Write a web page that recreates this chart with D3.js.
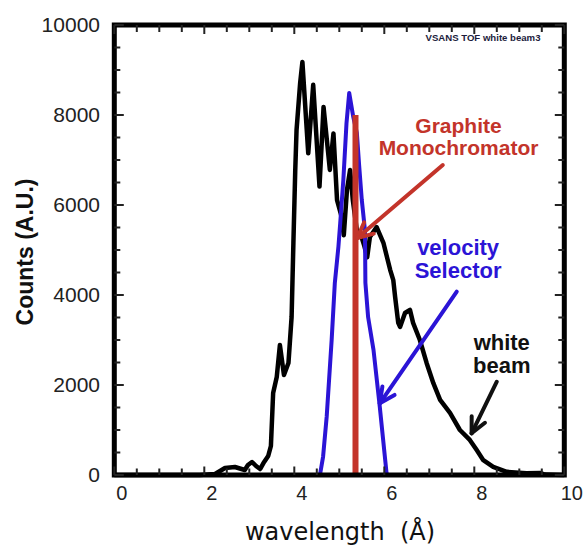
<!DOCTYPE html>
<html>
<head>
<meta charset="utf-8">
<script src="https://cdn.jsdelivr.net/npm/d3@7/dist/d3.min.js"></script>
<style>
  html, body { margin: 0; padding: 0; background: #fff; }
  svg { display: block; }
</style>
</head>
<body>
<svg id="chart" width="587" height="550"></svg>
<script>
// White beam time-of-flight spectrum (black)
const whiteLambda = [0, 1.90, 2.24, 2.46, 2.68, 2.90, 2.97, 3.06, 3.15, 3.24,
  3.33, 3.42, 3.48, 3.53, 3.61, 3.68, 3.77, 3.87, 3.94, 3.98,
  4.02, 4.05, 4.13, 4.18, 4.31, 4.42, 4.56, 4.65, 4.79, 4.87,
  4.95, 5.04, 5.10, 5.17, 5.24, 5.30, 5.39, 5.48, 5.55, 5.62,
  5.68, 5.83, 5.98, 6.13, 6.20, 6.24, 6.31, 6.35, 6.46, 6.57,
  6.64, 6.79, 6.94, 7.09, 7.24, 7.46, 7.68, 7.90, 8.05, 8.20,
  8.42, 8.72, 9.16, 9.46, 9.57, 10];
const whiteCounts = [0, 0, 22, 156, 178, 111, 222, 289, 200, 133,
  289, 422, 644, 1822, 2178, 2889, 2222, 2489, 3511, 5156,
  6733, 7667, 8711, 9180, 7150, 8670, 6410, 8180, 6780, 7590,
  6110, 5780, 5330, 6330, 6780, 6110, 5440, 5330, 5110, 4840,
  5290, 5510, 5160, 4560, 4330, 3960, 3380, 3290, 3600, 3670,
  3380, 3000, 2490, 2040, 1670, 1380, 1000, 780, 560, 330,
  180, 70, 40, 45, 10, 0];

// Velocity selector transmission (blue)
const selectorLambda = [4.57, 4.64, 4.72, 4.83, 4.90, 4.98, 5.02, 5.09, 5.16, 5.22,
  5.31, 5.39, 5.44, 5.50, 5.57, 5.58, 5.64, 5.76, 5.90, 6.05, 6.08];
const selectorCounts = [0, 410, 1300, 3000, 4260, 5070, 5590, 6560, 7820, 8490,
  7960, 7600, 6890, 6110, 5440, 4270, 3510, 2780, 1510, 40, 0];

// Graphite monochromator line (red)
const graphiteLambda = [5.36, 5.36];
const graphiteCounts = [0, 8000];

// Axis ticks
const xMajorTicks = [0, 2, 4, 6, 8, 10];
const xMinorTicks = [0.5, 1, 1.5, 2.5, 3, 3.5, 4.5, 5, 5.5, 6.5, 7, 7.5, 8.5, 9, 9.5];
const yMajorTicks = [0, 2000, 4000, 6000, 8000, 10000];
const yMinorTicks = [500, 1000, 1500, 2500, 3000, 3500, 4500, 5000, 5500,
  6500, 7000, 7500, 8500, 9000, 9500];

// Annotations (data units)
const labels = [
  { lines: ["Graphite", "Monochromator"], at: [7.65, 7600], step: 22, color: "#c3342a", size: 21 },
  { lines: ["velocity", "Selector"], at: [7.64, 4889], step: 23.3, color: "#2b14d6", size: 22 },
  { lines: ["white", "beam"], at: [8.61, 2778], step: 23.3, color: "#111", size: 22 }
];
const arrows = [
  { from: [7.30, 6889], to: [5.40, 5267], color: "#c3342a" },
  { from: [7.61, 4073], to: [5.90, 1593], color: "#2b14d6" },
  { from: [8.50, 2073], to: [7.94, 927], color: "#111" }
];

(function draw() {
  const svg = d3.select("#chart");
  const pl = 114.3, pr = 564.3, pt = 25, pb = 475;
  const x = d3.scaleLinear().domain([0, 10]).range([pl, pr]);
  const y = d3.scaleLinear().domain([0, 10000]).range([pb, pt]);

  // Series
  const line = d3.line().x(d => x(d[0])).y(d => y(d[1]));
  const zip = (a, b) => a.map((v, i) => [v, b[i]]);

  svg.append("path").datum(zip(whiteLambda, whiteCounts))
    .attr("d", line).attr("fill", "none").attr("stroke", "#000")
    .attr("stroke-width", 4.5).attr("stroke-linejoin", "round");

  svg.append("path").datum(zip(selectorLambda, selectorCounts))
    .attr("d", line).attr("fill", "none").attr("stroke", "#2b14d6")
    .attr("stroke-width", 4).attr("stroke-linejoin", "round");

  svg.append("path").datum(zip(graphiteLambda, graphiteCounts))
    .attr("d", line).attr("fill", "none").attr("stroke", "#c3342a")
    .attr("stroke-width", 6);

  // Plot frame
  svg.append("rect").attr("x", pl).attr("y", pt)
    .attr("width", pr - pl).attr("height", pb - pt)
    .attr("fill", "none").attr("stroke", "#000").attr("stroke-width", 5);

  // Inward tick marks on all four sides
  const tickG = svg.append("g").attr("stroke", "#222").attr("stroke-width", 2);
  function xTicks(values, len) {
    tickG.append("g").selectAll("line").data(values).join("line")
      .attr("x1", d => x(d)).attr("x2", d => x(d)).attr("y1", pb).attr("y2", pb - len);
    tickG.append("g").selectAll("line").data(values).join("line")
      .attr("x1", d => x(d)).attr("x2", d => x(d)).attr("y1", pt).attr("y2", pt + len + 0.5);
  }
  function yTicks(values, len) {
    tickG.append("g").selectAll("line").data(values).join("line")
      .attr("y1", d => y(d)).attr("y2", d => y(d)).attr("x1", pl).attr("x2", pl + len);
    tickG.append("g").selectAll("line").data(values).join("line")
      .attr("y1", d => y(d)).attr("y2", d => y(d)).attr("x1", pr).attr("x2", pr - len);
  }
  xTicks(xMinorTicks, 6.5);
  xTicks(xMajorTicks, 8.5);
  yTicks(yMinorTicks, 6);
  yTicks(yMajorTicks, 9.5);

  // Tick labels
  const xLab = svg.append("g").attr("transform", `translate(0,${pb})`)
    .call(d3.axisBottom(x).tickValues(xMajorTicks).tickFormat(d3.format("d"))
      .tickSize(0).tickPadding(10.8));
  xLab.select(".domain").remove();
  xLab.selectAll("text").attr("dx", 7)
    .attr("font-family", "'Liberation Sans', Arial, sans-serif")
    .attr("font-size", 20).attr("fill", "#222");

  const yLab = svg.append("g").attr("transform", `translate(${pl},0)`)
    .call(d3.axisLeft(y).tickValues(yMajorTicks).tickFormat(d3.format("d"))
      .tickSize(0).tickPadding(14.3));
  yLab.select(".domain").remove();
  yLab.selectAll("text")
    .attr("font-family", "'Liberation Sans', Arial, sans-serif")
    .attr("font-size", 21).attr("fill", "#222");

  // Arrows with open heads
  arrows.forEach(a => {
    const x1 = x(a.from[0]), y1 = y(a.from[1]), x2 = x(a.to[0]), y2 = y(a.to[1]);
    const ang = Math.atan2(y2 - y1, x2 - x1);
    const len = 17, spread = 0.45;
    const g = svg.append("g").attr("stroke", a.color).attr("stroke-width", 4)
      .attr("stroke-linecap", "round").attr("fill", "none");
    g.append("line").attr("x1", x1).attr("y1", y1).attr("x2", x2).attr("y2", y2);
    [-spread, spread].forEach(s => {
      g.append("line").attr("x1", x2).attr("y1", y2)
        .attr("x2", x2 - len * Math.cos(ang + s))
        .attr("y2", y2 - len * Math.sin(ang + s));
    });
  });

  // Annotation text
  labels.forEach(l => {
    const t = svg.append("text").attr("text-anchor", "middle")
      .attr("font-family", "'Liberation Sans', Arial, sans-serif")
      .attr("font-weight", "bold").attr("font-size", l.size).attr("fill", l.color);
    l.lines.forEach((s, i) => {
      t.append("tspan").attr("x", x(l.at[0])).attr("y", y(l.at[1]) + i * l.step).text(s);
    });
  });

  svg.append("text").attr("x", 483).attr("y", 41).attr("text-anchor", "middle")
    .attr("font-family", "'Liberation Sans', Arial, sans-serif")
    .attr("font-weight", "bold").attr("font-size", 9.6).attr("fill", "#1c1c3c")
    .text("VSANS TOF white beam3");

  // Axis titles
  svg.append("text").attr("x", 340).attr("y", 540).attr("text-anchor", "middle")
    .attr("font-family", "'DejaVu Sans', sans-serif").attr("font-size", 24)
    .attr("fill", "#111").style("white-space", "pre")
    .text("wavelength  (Å)");

  svg.append("text").attr("transform", "translate(33,252) rotate(-90)")
    .attr("text-anchor", "middle")
    .attr("font-family", "'Liberation Sans', Arial, sans-serif")
    .attr("font-weight", "bold").attr("font-size", 23).attr("fill", "#111")
    .text("Counts (A.U.)");
})();
</script>
</body>
</html>
